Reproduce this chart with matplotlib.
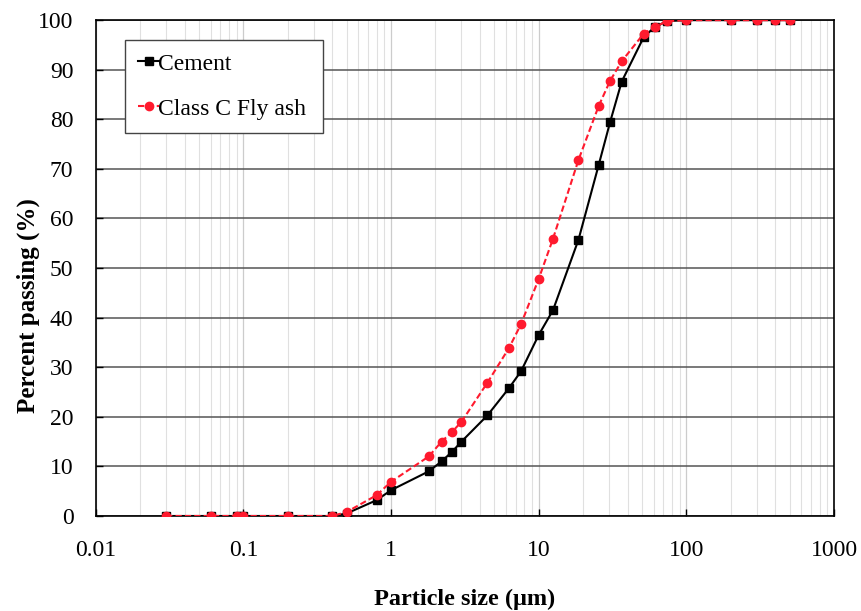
import matplotlib
matplotlib.use('Agg')
import matplotlib.pyplot as plt
from matplotlib.ticker import LogLocator, FixedLocator

plt.rcParams['font.family'] = ['Liberation Serif', 'DejaVu Serif']

# particle sizes (um)
sizes = [0.03, 0.06, 0.09, 0.1, 0.2, 0.4, 0.5, 0.8, 1.0, 1.8, 2.2, 2.6, 3.0, 4.5,
         6.3, 7.6, 10.0, 12.5, 18.6, 25.5, 30.5, 36.5, 51.5, 61.0, 74.0,
         100.0, 200.0, 300.0, 400.0, 500.0]
cement = [0, 0, 0, 0, 0, 0, 0.5, 3.2, 5.2, 9.0, 11.0, 13.0, 15.0, 20.3,
          25.8, 29.2, 36.5, 41.5, 55.7, 70.8, 79.5, 87.6, 96.6, 98.6, 99.8,
          100, 100, 100, 100, 100]
fly_ash = [0, 0, 0, 0, 0, 0, 0.8, 4.2, 6.9, 12.0, 15.0, 17.0, 19.0, 26.9,
           33.9, 38.7, 47.8, 55.9, 71.8, 82.7, 87.8, 91.7, 97.3, 98.6, 99.8,
           100, 100, 100, 100, 100]
xticks = [0.01, 0.1, 1, 10, 100, 1000]
xtick_labels = ['0.01', '0.1', '1', '10', '100', '1000']

fig = plt.figure(figsize=(8.62, 6.11), dpi=100)
ax = fig.add_axes([0.111, 0.1555, 0.8565, 0.8115])

ax.plot(sizes, cement, color='black', lw=1.5, marker='s', ms=6,
        label='Cement', zorder=3)
ax.plot(sizes, fly_ash, color='#ff1a2e', lw=1.5, ls=(0, (3, 1.5)), marker='o',
        ms=6, label='Class C Fly ash', zorder=4)

ax.set_xscale('log')
ax.set_xlim(0.01, 1000)
ax.set_ylim(0, 100)
ax.xaxis.set_major_locator(FixedLocator(xticks))
ax.set_xticklabels(xtick_labels)
ax.xaxis.set_minor_locator(LogLocator(base=10, subs=range(2, 10), numticks=20))
ax.set_yticks(range(0, 101, 10))

ax.grid(True, which='major', axis='y', color='#555555', lw=1.1)
ax.grid(True, which='major', axis='x', color='#cccccc', lw=0.9)
ax.grid(True, which='minor', axis='x', color='#e0e0e0', lw=0.8)
ax.set_axisbelow(True)

ax.tick_params(axis='both', which='major', direction='in', labelsize=17,
               length=5, width=1)
ax.tick_params(axis='y', which='major', pad=16)
ax.tick_params(axis='x', which='major', pad=17)
ax.tick_params(axis='x', which='minor', length=0)
for s in ax.spines.values():
    s.set_linewidth(1.2)

ax.set_xlabel('Particle size (μm)', fontsize=17.5, fontweight='bold', labelpad=20)
ax.set_ylabel('Percent passing (%)', fontsize=18, fontweight='bold')
ax.yaxis.set_label_coords(-0.076, 0.425)

leg = ax.legend(loc='upper left', bbox_to_anchor=(0.04, 0.96), fontsize=17,
                fancybox=False, framealpha=1, edgecolor='#444444',
                handlelength=0.9, handletextpad=0.1, labelspacing=1.0,
                borderpad=0.55, borderaxespad=0)
leg.get_frame().set_linewidth(1.0)
for t in leg.get_texts():
    t.set_x(-4)

fig.savefig('out.png', dpi=100)
